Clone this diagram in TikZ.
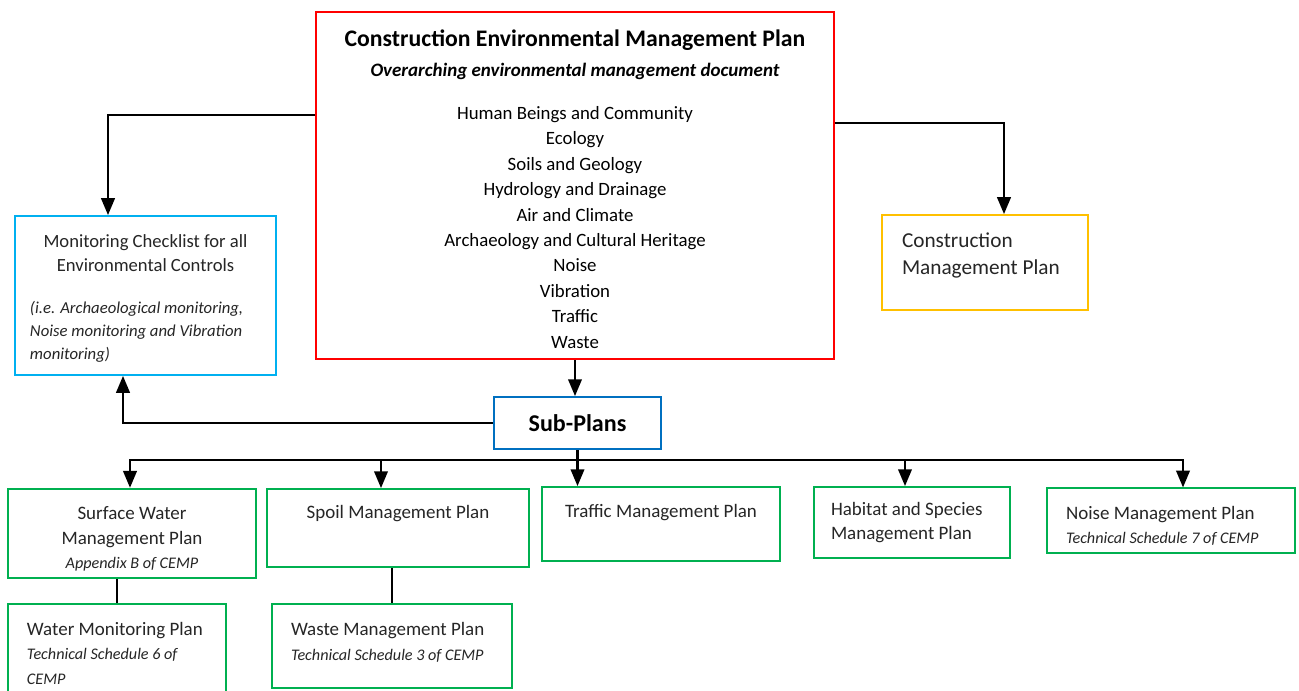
\documentclass[tikz,border=0pt]{standalone}
\usepackage{fontspec}
\setmainfont{Carlito}
\usepackage{xcolor}
\usetikzlibrary{arrows, positioning}

\definecolor{cempred}{HTML}{FF0000}
\definecolor{checkblue}{HTML}{00B0F0}
\definecolor{cmpyellow}{HTML}{FFC000}
\definecolor{subblue}{HTML}{0070C0}
\definecolor{plangreen}{HTML}{00B050}
\definecolor{textgrey}{HTML}{262626}

% small italic line under a plan name
\newcommand{\plannote}[1]{{\itshape\fontsize{9.2}{12}\selectfont #1}}

\begin{document}
\begin{tikzpicture}[x=0.2mm, y=-0.2mm,
    box/.style={rectangle, draw, line width=1.2pt, fill=white, text=textgrey, inner sep=4pt,
        font=\fontsize{10.8}{14}\selectfont},
    mainbox/.style={box, draw=cempred, text=black, text width=9.9cm, align=flush center,
        minimum width=10.36cm, minimum height=6.94cm, font=\fontsize{10.7}{14.5}\selectfont},
    checkbox/.style={box, draw=checkblue, text width=4.62cm, align=flush left,
        minimum width=5.22cm, minimum height=3.18cm, font=\fontsize{10.6}{13.6}\selectfont},
    cmpbox/.style={box, draw=cmpyellow, text width=3.32cm, align=flush left,
        minimum width=4.12cm, minimum height=1.9cm, font=\fontsize{12.1}{15.9}\selectfont},
    subbox/.style={box, draw=subblue, text=black, minimum width=3.34cm, minimum height=1.04cm,
        font=\fontsize{13.7}{16}\selectfont\bfseries},
    planbox/.style={box, draw=plangreen},
    arrow/.style={line width=1.2pt,->,>=triangle 45},
    link/.style={line width=1.2pt}]

    \useasboundingbox (0,0) rectangle (1299,691);

    % overarching plan
    \node [mainbox] (cemp) at (575,185.5) {%
        {\fontsize{13.5}{17}\selectfont\bfseries\rule{0pt}{13.5pt}Construction Environmental Management Plan\par}
        {\fontsize{10.8}{17}\selectfont\bfseries\itshape Overarching environmental management document\par}
        \vspace{10pt}
        Human Beings and Community\\ Ecology\\ Soils and Geology\\ Hydrology and Drainage\\
        Air and Climate\\ Archaeology and Cultural Heritage\\ Noise\\ Vibration\\ Traffic\\ Waste\par};

    \node [checkbox] (checklist) at (145.5,295.5) {%
        {\centering\rule{0pt}{11pt}Monitoring Checklist for all\\ Environmental Controls\par}
        \vspace{11pt}
        {\itshape\fontsize{9.5}{13}\selectfont (i.e. Archaeological monitoring,\\ Noise monitoring and Vibration\\ monitoring)\par}};

    \node [cmpbox] (cmp) at (985,262.5) {Construction\\ Management Plan\par\vspace{8pt}};

    \node [subbox] (subplans) at (577.5,423) {Sub-Plans};

    % sub-plans
    \node [planbox, text width=4.5cm, align=flush center, minimum width=4.96cm, minimum height=1.78cm]
        (surface) at (132,533.5) {\rule{0pt}{13.5pt}Surface Water\\ Management Plan\\ \plannote{Appendix B of CEMP}};
    \node [planbox, text width=4.8cm, align=flush center, minimum width=5.24cm, minimum height=1.56cm]
        (spoil) at (398,528) {Spoil Management Plan\par\vspace{17pt}};
    \node [planbox, text width=4.3cm, align=flush center, minimum width=4.76cm, minimum height=1.48cm]
        (traffic) at (661,524) {Traffic Management Plan\par\vspace{13.5pt}};
    \node [planbox, text width=3.24cm, align=flush left, minimum width=3.92cm, minimum height=1.42cm]
        (habitat) at (912,522.5) {Habitat and Species\\ Management Plan};
    \node [planbox, text width=4.2cm, align=flush left, minimum width=4.96cm, minimum height=1.26cm]
        (noise) at (1171,520.5) {\rule{0pt}{13.5pt}Noise Management Plan\\ \plannote{Technical Schedule 7 of CEMP}};
    \node [planbox, text width=3.6cm, align=flush left, minimum width=4.36cm, minimum height=1.8cm]
        (watermon) at (117,649) {\rule{0pt}{12.5pt}Water Monitoring Plan\\ \plannote{Technical Schedule 6 of}\\ \plannote{CEMP}};
    \node [planbox, text width=4.04cm, align=flush left, minimum width=4.8cm, minimum height=1.68cm]
        (waste) at (392,646) {Waste Management Plan\\ \plannote{Technical Schedule 3 of CEMP}\par\vspace{4pt}};

    % links from the overarching plan
    \draw [arrow] ([yshift=1.41cm]cemp.west) -| ([xshift=-0.75cm]checklist.north);
    \draw [arrow] ([yshift=1.25cm]cemp.east) -| ([xshift=0.38cm]cmp.north);
    \draw [arrow] (cemp.south) -- (cemp.south |- subplans.north);
    \draw [arrow] (subplans.west) -| ([xshift=-0.45cm]checklist.south);

    % bus down to the sub-plans
    \draw [link] (subplans.south) -- ++(0,10) coordinate (bus);
    \draw [arrow] (bus) -| ([xshift=-0.04cm]surface.north);
    \draw [arrow] (bus) -| ([xshift=-0.34cm]spoil.north);
    \draw [arrow] (bus) -- (bus |- traffic.north);
    \draw [arrow] (bus) -| ([xshift=-0.14cm]habitat.north);
    \draw [arrow] (bus) -| ([xshift=0.24cm]noise.north);

    \draw [link] (watermon.north |- surface.south) -- (watermon.north);
    \draw [link] (waste.north |- spoil.south) -- (waste.north);
\end{tikzpicture}
\end{document}
